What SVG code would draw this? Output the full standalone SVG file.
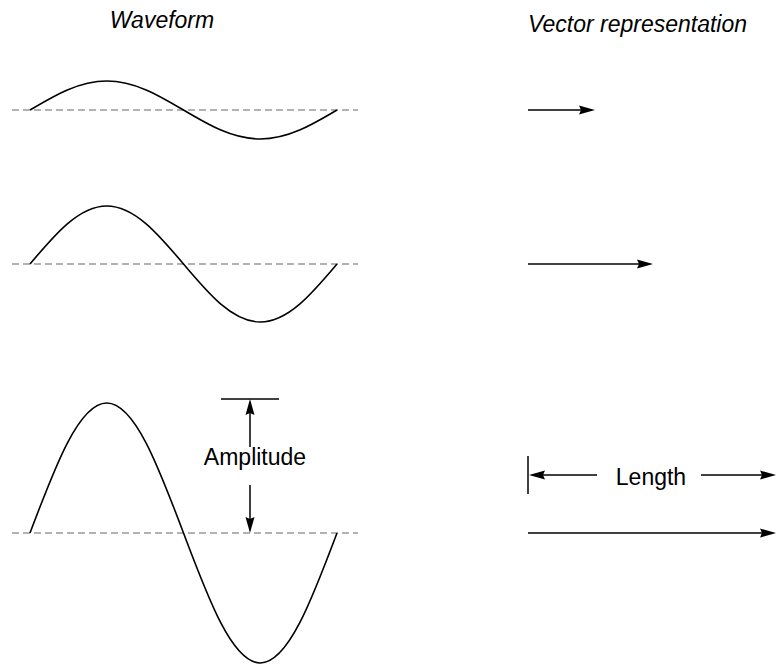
<svg xmlns="http://www.w3.org/2000/svg" width="777" height="665" viewBox="0 0 777 665">
<style>
.t{font-family:"Liberation Sans",Arial,sans-serif;font-size:23px;fill:#000}
.ti{font-style:italic}
.base{stroke:#999;stroke-width:1.5;stroke-dasharray:7,4;fill:none}
.wave{stroke:#000;stroke-width:1.6;fill:none}
.ln{stroke:#000;stroke-width:1.5;fill:none}
.arr{marker-end:url(#ah)}
</style>
<defs>
<marker id="ah" markerUnits="userSpaceOnUse" markerWidth="17" markerHeight="10" refX="13" refY="4.5" orient="auto" overflow="visible">
<path d="M0,0 L16,4.5 L0,9 L2,4.5 z" fill="#000"/>
</marker>
</defs>
<g id="titles">
<text class="t ti" x="162" y="28" text-anchor="middle">Waveform</text>
<text class="t ti" x="528" y="32">Vector representation</text>
</g>
<g id="waveform1">
<line class="base" x1="12" y1="110" x2="358" y2="110"/>
<path class="wave" d="M30,110 C55.03,95.14 78.97,81 106.75,81 C134.53,81 158.47,95.14 183.5,110 C208.53,124.86 232.47,139 260.25,139 C288.03,139 311.97,124.86 337,110"/>
</g>
<g id="waveform2">
<line class="base" x1="12" y1="264" x2="358" y2="264"/>
<path class="wave" d="M30,264 C55.03,234.29 78.97,206 106.75,206 C134.53,206 158.47,234.29 183.5,264 C208.53,293.71 232.47,322 260.25,322 C288.03,322 311.97,293.71 337,264"/>
</g>
<g id="waveform3">
<line class="base" x1="12" y1="533" x2="358" y2="533"/>
<path class="wave" d="M30,533 C55.03,466.4 78.97,403 106.75,403 C134.53,403 158.47,466.4 183.5,533 C208.53,599.6 232.47,663 260.25,663 C288.03,663 311.97,599.6 337,533"/>
</g>
<g id="amplitude">
<line class="ln" x1="221" y1="399" x2="279" y2="399"/>
<text class="t" x="255" y="465" text-anchor="middle">Amplitude</text>
</g>
<g id="vector1">
<line class="ln arr" x1="528" y1="110" x2="592" y2="110"/>
</g>
<g id="vector2">
<line class="ln arr" x1="528" y1="264" x2="650" y2="264"/>
</g>
<g id="vector3">
<line class="ln arr" x1="528" y1="533" x2="773" y2="533"/>
</g>
<g id="length">
<line class="ln" x1="528" y1="456" x2="528" y2="494"/>
<text class="t" x="651" y="485" text-anchor="middle">Length</text>
</g>
<g id="connectors">
<line class="ln arr" x1="250" y1="447" x2="250" y2="402"/>
<line class="ln arr" x1="250" y1="485" x2="250" y2="530"/>
<line class="ln arr" x1="597" y1="475" x2="532" y2="475"/>
<line class="ln arr" x1="701" y1="475" x2="773" y2="475"/>
</g>
</svg>
